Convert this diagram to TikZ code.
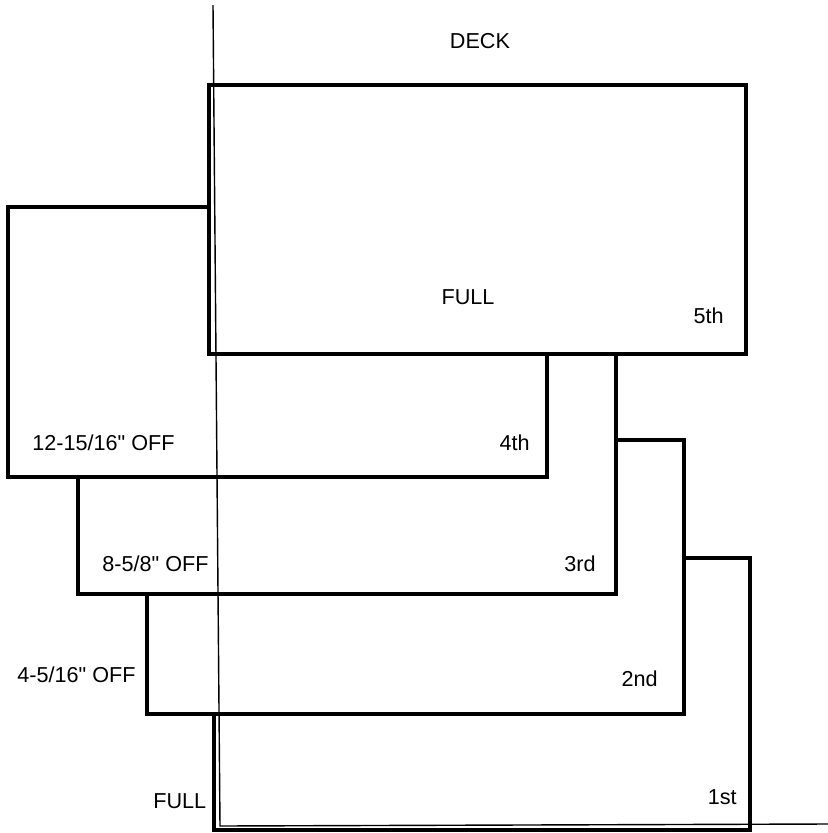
\documentclass[tikz,border=0pt]{standalone}
\usepackage{fontspec}
\setmainfont{Liberation Sans}
\usetikzlibrary{positioning}

\begin{document}
\begin{tikzpicture}[x=0.02cm, y=-0.02cm,
    course/.style={draw=black, fill=white, line width=2pt, line join=miter},
    guide/.style={draw=black, line width=0.8pt},
    tag/.style={inner sep=0pt, font=\fontsize{12.3}{14}\selectfont}]
    \useasboundingbox (0,0) rectangle (828,833);

    % Courses, lowest first so the upper ones cover it
    \draw[course] (214,558) rectangle (750,830);
    \draw[course] (147,440) rectangle (684,714);
    \draw[course] (78,322) rectangle (616,594);
    \draw[course] (8,207) rectangle (547,477);
    \draw[course] (209,85) rectangle (746,354);

    % Reference lines
    \coordinate (top) at (213,5);
    \coordinate (corner) at (220,826);
    \coordinate (right) at (828,824);
    \draw[guide] (top) -- (corner) -- (right);

    % Labels
    \node[tag, anchor=base] (deck) at (480,48) {DECK};
    \node[tag, anchor=base] (full5) at (468,304) {FULL};
    \node[tag, anchor=base east] (fifth) at (724,323) {5th};
    \node[tag, anchor=base east] (fourth) at (530,450) {4th};
    \node[tag, anchor=base west] (off4) at (32,450) {12-15/16\textquotedbl{} OFF};
    \node[tag, anchor=base east] (third) at (596,571) {3rd};
    \node[tag, anchor=base west] (off3) at (102,571) {8-5/8\textquotedbl{} OFF};
    \node[tag, anchor=base east] (second) at (658,686) {2nd};
    \node[tag, anchor=base west] (off2) at (17,682) {4-5/16\textquotedbl{} OFF};
    \node[tag, anchor=base east] (first) at (737,804) {1st};
    \node[tag, anchor=base west] (full1) at (153,808) {FULL};
\end{tikzpicture}
\end{document}
